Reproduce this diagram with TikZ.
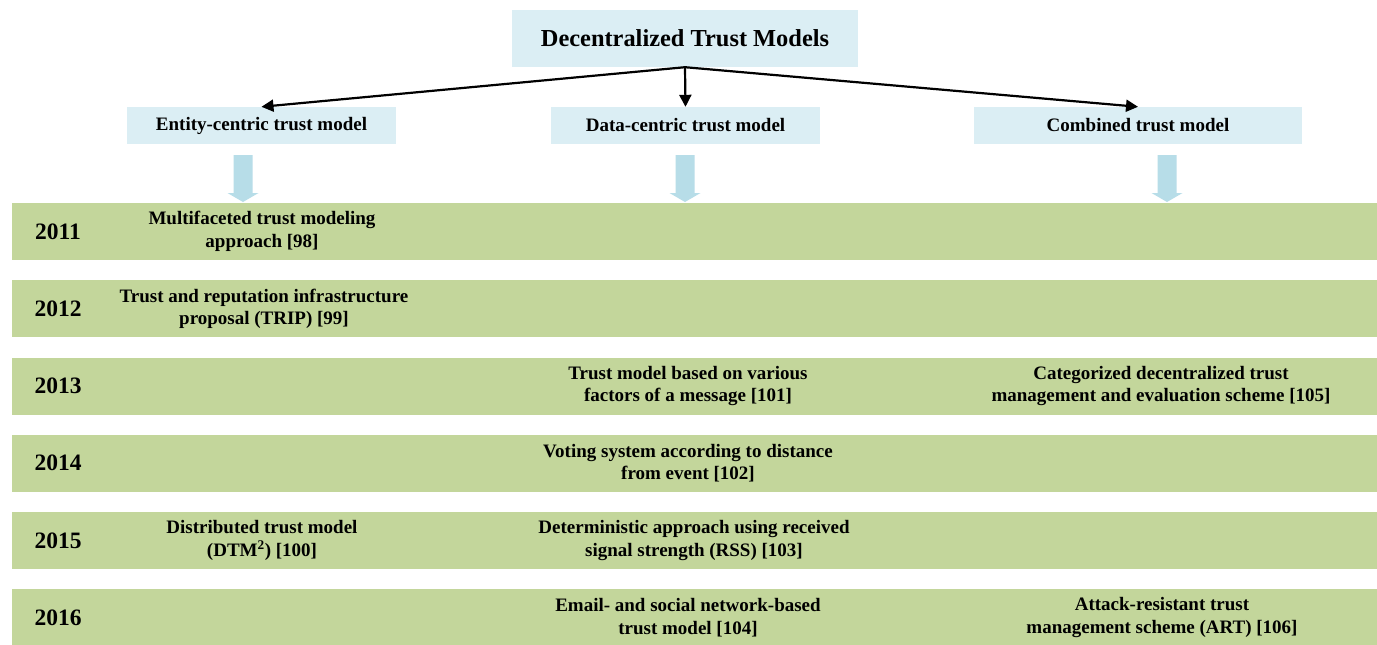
\documentclass[tikz,border=0pt]{standalone}
\usepackage{fontspec}
\setmainfont{Liberation Serif}
\usetikzlibrary{arrows.meta,calc}

\definecolor{boxblue}{HTML}{DBEEF4}
\definecolor{arrowblue}{HTML}{B7DDE8}
\definecolor{rowgreen}{HTML}{C3D69B}

\tikzset{
  titlebox/.style={fill=boxblue, minimum width=346pt, minimum height=57pt, inner sep=0pt,
    font=\bfseries\fontsize{24.4}{28}\selectfont},
  catbox/.style={fill=boxblue, minimum height=37pt, inner sep=0pt,
    font=\bfseries\fontsize{19}{22}\selectfont},
  yearrow/.style={fill=rowgreen, minimum width=1380pt, minimum height=57pt, inner sep=0pt, anchor=north west},
  yeartext/.style={font=\bfseries\fontsize{23.5}{26}\selectfont},
  entrytext/.style={align=center, inner sep=0pt, font=\bfseries\fontsize{19}{22.5}\selectfont},
  conn/.style={line width=2.2pt, -{Triangle[length=12pt,width=12pt]}},
}

% light-blue block arrow pointing down, top centre at #1
\newcommand{\blockdown}[1]{%
  \fill[arrowblue] ($(#1)+(-9.5,0)$) -- ($(#1)+(9.5,0)$) -- ($(#1)+(9.5,38)$)
    -- ($(#1)+(15.5,38)$) -- ($(#1)+(0,47)$) -- ($(#1)+(-15.5,38)$)
    -- ($(#1)+(-9.5,38)$) -- cycle;}

\begin{document}
\begin{tikzpicture}[x=1pt,y=-1pt]
\useasboundingbox (0,0) rectangle (1377,645);
\fill[white] (0,0) rectangle (1377,645);

% header
\node[titlebox] (title) at (685,38.5) {Decentralized Trust Models};
\node[catbox, minimum width=269pt] (ent)  at (261.5,125.5) {Entity-centric trust model};
\node[catbox, minimum width=269pt] (data) at (685.5,125.5) {Data-centric trust model};
\node[catbox, minimum width=328pt] (comb) at (1138,125.5) {Combined trust model};

\draw[conn] (title.south) -- (ent.north);
\draw[conn] (title.south) -- (data.north);
\draw[conn] (title.south) -- (comb.north);

% block arrows below the categories
\coordinate (entdown)  at (243,155);
\coordinate (datadown) at (685,155);
\coordinate (combdown) at (1167,155);
\blockdown{entdown}
\blockdown{datadown}
\blockdown{combdown}

% year rows
\node[yearrow] (r2011) at (12,203) {};
\node[yearrow] (r2012) at (12,280.2) {};
\node[yearrow] (r2013) at (12,357.4) {};
\node[yearrow] (r2014) at (12,434.6) {};
\node[yearrow] (r2015) at (12,511.8) {};
\node[yearrow] (r2016) at (12,589) {};

\node[yeartext] (y2011) at (58,231.5) {2011};
\node[yeartext] (y2012) at (58,308.7) {2012};
\node[yeartext] (y2013) at (58,385.9) {2013};
\node[yeartext] (y2014) at (58,463.1) {2014};
\node[yeartext] (y2015) at (58,540.3) {2015};
\node[yeartext] (y2016) at (58,617.5) {2016};

% entity-centric column
\node[entrytext] (e98)  at (262,231.5) {Multifaceted trust modeling\\approach [98]};
\node[entrytext] (e99)  at (264,308.7) {Trust and reputation infrastructure\\proposal (TRIP) [99]};
\node[entrytext] (e100) at (262,540.3) {Distributed trust model\\(DTM\textsuperscript{2}) [100]};

% data-centric column
\node[entrytext] (d101) at (688,385.9) {Trust model based on various\\factors of a message [101]};
\node[entrytext] (d102) at (688,463.1) {Voting system according to distance\\from event [102]};
\node[entrytext] (d103) at (694,540.3) {Deterministic approach using received\\signal strength (RSS) [103]};
\node[entrytext] (d104) at (688,617.5) {Email- and social network-based\\trust model [104]};

% combined column
\node[entrytext] (c105) at (1161,385.9) {Categorized decentralized trust\\management and evaluation scheme [105]};
\node[entrytext] (c106) at (1162,617.5) {Attack-resistant trust\\management scheme (ART) [106]};
\end{tikzpicture}
\end{document}
